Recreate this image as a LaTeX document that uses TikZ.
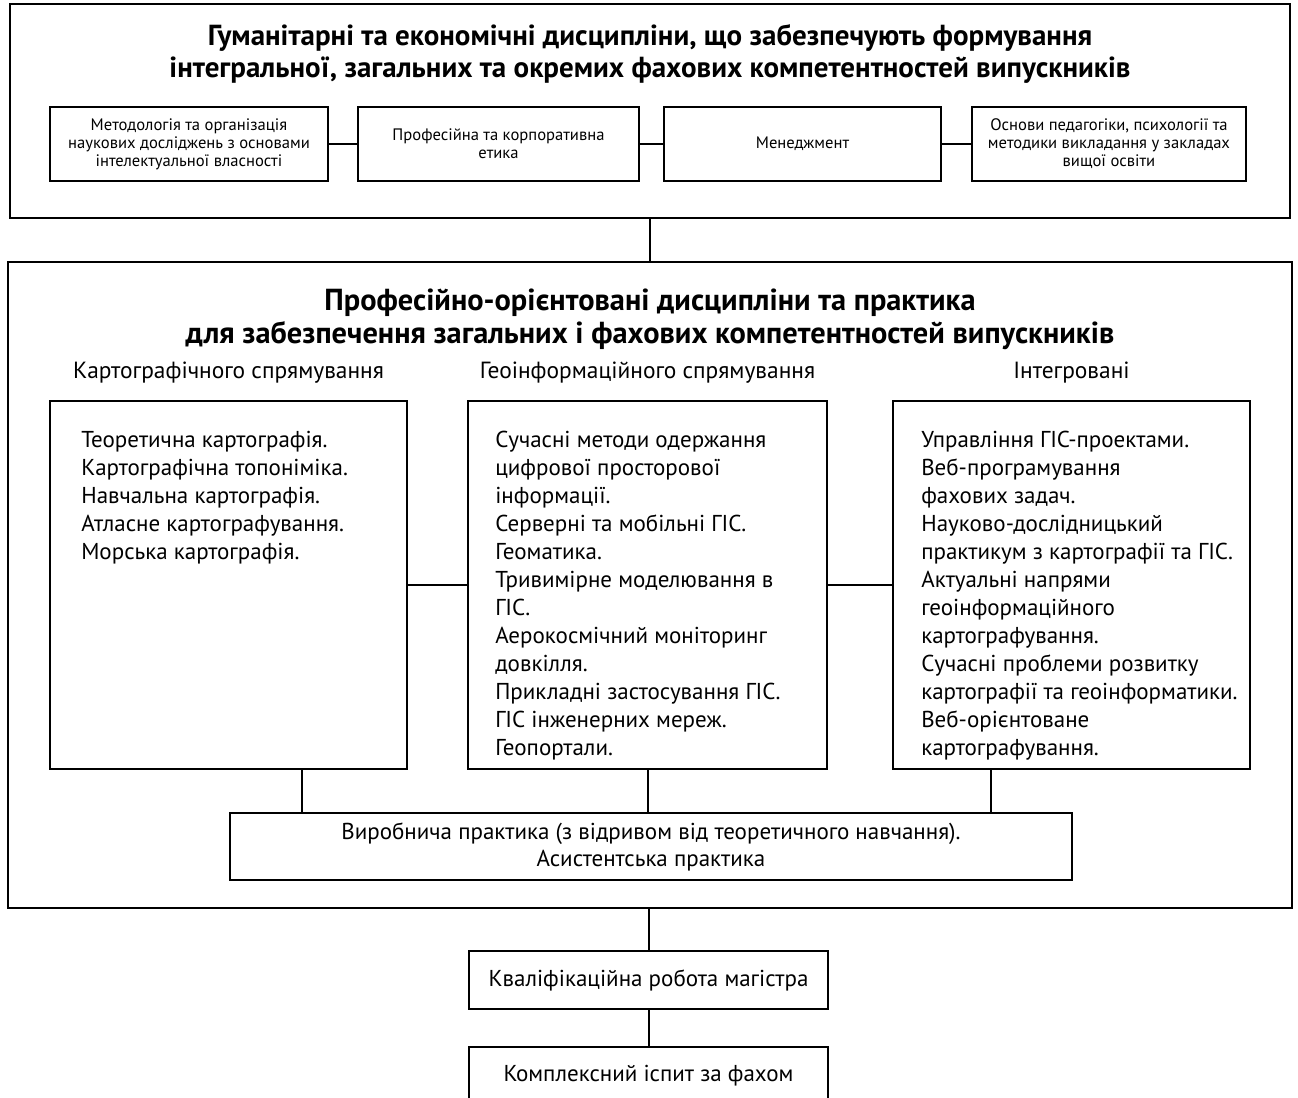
\documentclass[tikz,border=0pt]{standalone}
\usepackage{fontspec}
\setmainfont{PT Sans}
\usetikzlibrary{positioning, fit, calc}

\tikzset{
  frame/.style={draw, line width=1.3pt, inner sep=0pt},
  subjbox/.style={draw, line width=1pt, inner sep=0pt, minimum height=37pt, align=center, font=\fontsize{8.3}{9}\selectfont},
  colbox/.style={draw, line width=1.1pt, inner sep=0pt},
  itemtext/.style={anchor=north west, inner sep=0pt, align=left, font=\fontsize{11.5}{14}\selectfont},
  heading/.style={inner sep=0pt, font=\fontsize{11.7}{13}\selectfont},
  bigtitle/.style={align=center, inner sep=0pt, font=\bfseries\fontsize{14.5}{16}\selectfont},
  stagebox/.style={draw, line width=1.1pt, inner sep=0pt, align=center, font=\fontsize{11.5}{13.5}\selectfont},
  link/.style={line width=1pt}
}

\begin{document}
\begin{tikzpicture}[x=0.5pt, y=-0.5pt]
\useasboundingbox (0,0) rectangle (1298,1098);
% humanities and economics block
\node[frame, fit={(10,4) (1290,218)}] (hum) {};
\node[bigtitle] (humtitle) at (650,54) {Гуманітарні та економічні дисципліни, що забезпечують формування\\інтегральної, загальних та окремих фахових компетентностей випускників};
\node[subjbox, minimum width=139pt] (method) at (189,144) {Методологія та організація\\наукових досліджень з основами\\інтелектуальної власності};
\node[subjbox, minimum width=140.5pt] (ethics) at (498.5,144) {Професійна та корпоративна\\етика};
\node[subjbox, minimum width=138.5pt] (manage) at (802.5,144) {Менеджмент};
\node[subjbox, minimum width=137pt] (pedag) at (1109,144) {Основи педагогіки, психології та\\методики викладання у закладах\\вищої освіти};
\draw[link] (method) -- (ethics);
\draw[link] (ethics) -- (manage);
\draw[link] (manage) -- (pedag);

% professional block
\node[frame, fit={(8,262) (1292,908)}] (prof) {};
\draw[link] (hum.south) -- (prof.north);
\node[bigtitle, font=\bfseries\fontsize{15.2}{16.5}\selectfont] (proftitle) at (650,319) {Професійно-орієнтовані дисципліни та практика\\для забезпечення загальних і фахових компетентностей випускників};

\node[colbox, fit={(50,401) (407,769)}] (carto) {};
\node[colbox, fit={(468,401) (827,769)}] (geo) {};
\node[colbox, fit={(893,401) (1250,769)}] (integr) {};
\node[heading, above=8pt of carto] (cartohead) {Картографічного спрямування};
\node[heading, above=8pt of geo] (geohead) {Геоінформаційного спрямування};
\node[heading, above=8pt of integr] (integrhead) {Інтегровані};

\node[itemtext] (cartolist) at ([shift={(32,31)}]carto.north west) {Теоретична картографія.\\Картографічна топоніміка.\\Навчальна картографія.\\Атласне картографування.\\Морська картографія.};
\node[itemtext] (geolist) at ([shift={(28,31)}]geo.north west) {Сучасні методи одержання\\цифрової просторової\\інформації.\\Серверні та мобільні ГІС.\\Геоматика.\\Тривимірне моделювання в\\ГІС.\\Аерокосмічний моніторинг\\довкілля.\\Прикладні застосування ГІС.\\ГІС інженерних мереж.\\Геопортали.};
\node[itemtext] (integrlist) at ([shift={(29,31)}]integr.north west) {Управління ГІС-проектами.\\Веб-програмування\\фахових задач.\\Науково-дослідницький\\практикум з картографії та ГІС.\\Актуальні напрями\\геоінформаційного\\картографування.\\Сучасні проблеми розвитку\\картографії та геоінформатики.\\Веб-орієнтоване\\картографування.};
\draw[link] (carto) -- (geo);
\draw[link] (geo) -- (integr);

\node[stagebox, minimum width=421pt, minimum height=33.5pt] (practice) at (651,846.5) {Виробнича практика (з відривом від теоретичного навчання).\\Асистентська практика};
\coordinate (cartofoot) at ($(carto.south west)!0.706!(carto.south east)$);
\coordinate (integrfoot) at ($(integr.south west)!0.275!(integr.south east)$);
\draw[link] (cartofoot) -- (cartofoot |- practice.north);
\draw[link] (geo.south) -- (geo.south |- practice.north);
\draw[link] (integrfoot) -- (integrfoot |- practice.north);

% final stages
\node[stagebox, minimum width=179.5pt, minimum height=29pt] (thesis) at (648.5,980) {Кваліфікаційна робота магістра};
\node[stagebox, minimum width=179.5pt, minimum height=29pt] (exam) at (648.5,1076) {Комплексний іспит за фахом};
\draw[link] (prof.south -| thesis.north) -- (thesis.north);
\draw[link] (thesis) -- (exam);
\end{tikzpicture}
\end{document}
